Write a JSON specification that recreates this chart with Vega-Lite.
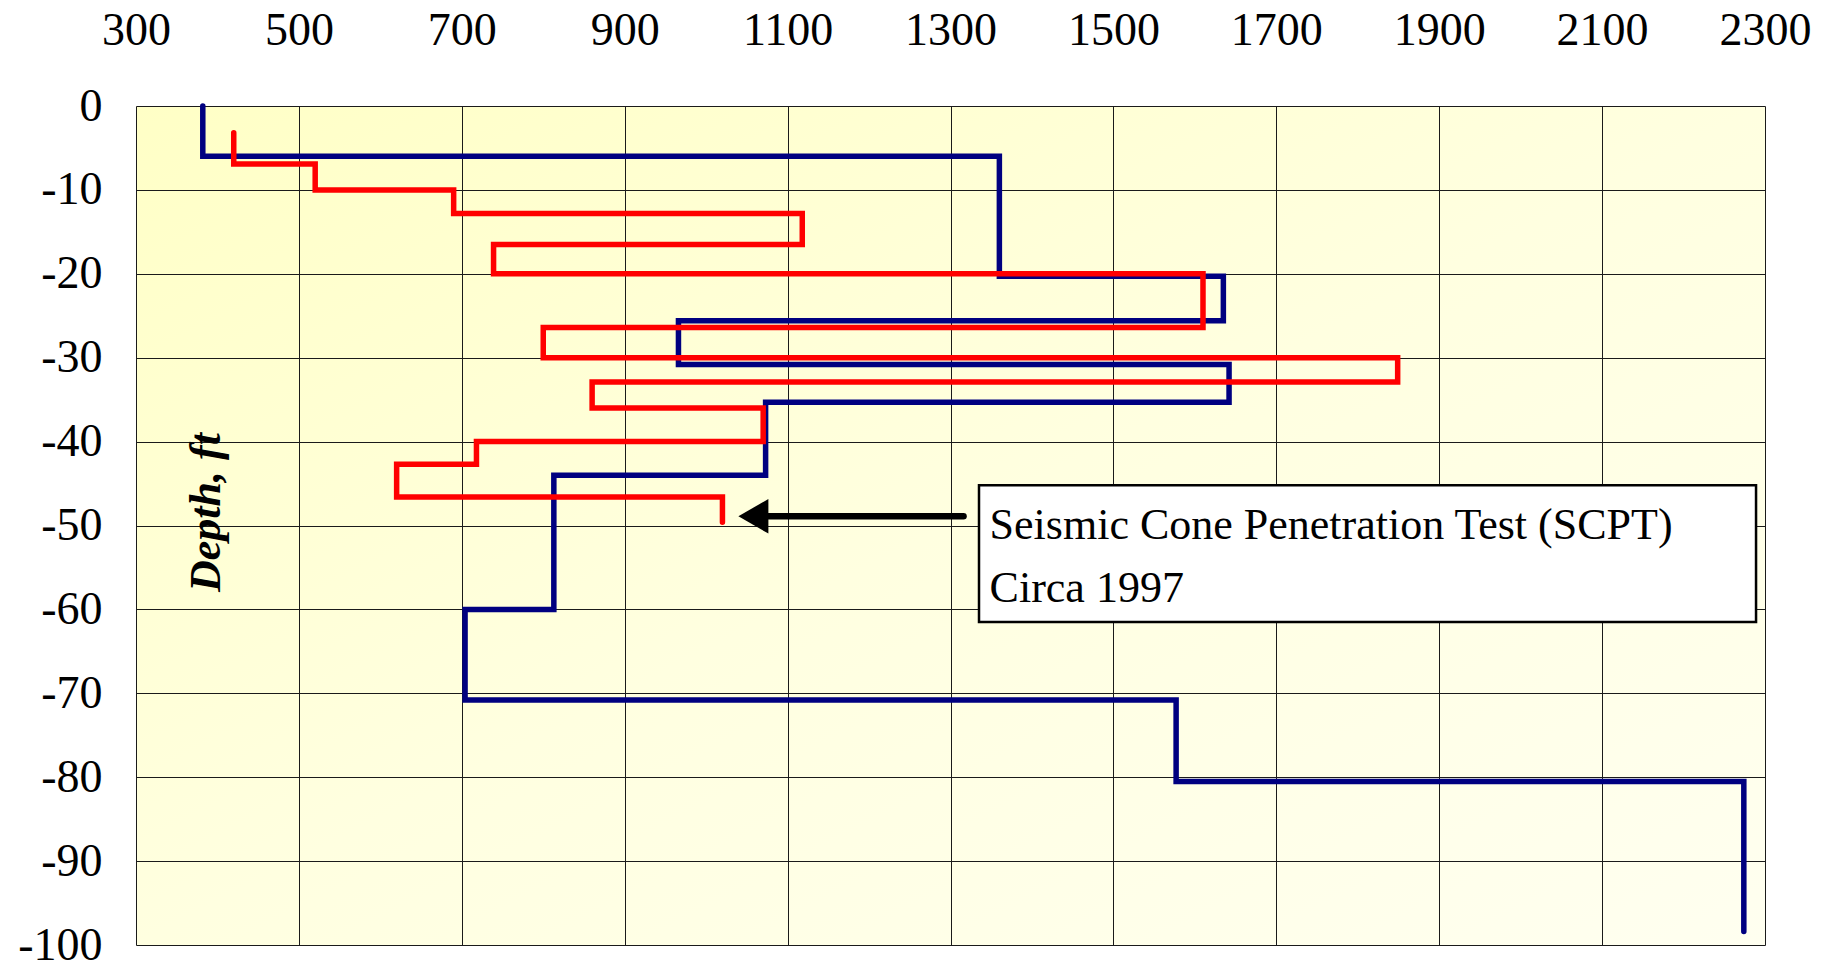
{
  "$schema": "https://vega.github.io/schema/vega-lite/v6.json",
  "autosize": "none",
  "width": 1629,
  "height": 839,
  "padding": {"left": 136, "top": 106, "right": 61, "bottom": 30},
  "background": "white",
  "config": {
    "font": "Liberation Serif",
    "view": {
      "stroke": null,
      "fill": {"gradient": "linear", "x1": 0, "y1": 0, "x2": 1, "y2": 1,
        "stops": [{"offset": 0, "color": "#FFFFC6"}, {"offset": 0.5, "color": "#FFFFE0"}, {"offset": 1, "color": "#FFFFF0"}]}
    }
  },
  "datasets": {
    "blue": [
      {"i": 0, "x": 382, "y": 0}, {"i": 1, "x": 382, "y": -6}, {"i": 2, "x": 1360, "y": -6},
      {"i": 3, "x": 1360, "y": -20.3}, {"i": 4, "x": 1635, "y": -20.3}, {"i": 5, "x": 1635, "y": -25.6},
      {"i": 6, "x": 966, "y": -25.6}, {"i": 7, "x": 966, "y": -30.8}, {"i": 8, "x": 1642, "y": -30.8},
      {"i": 9, "x": 1642, "y": -35.3}, {"i": 10, "x": 1073, "y": -35.3}, {"i": 11, "x": 1073, "y": -44},
      {"i": 12, "x": 813, "y": -44}, {"i": 13, "x": 813, "y": -60}, {"i": 14, "x": 704, "y": -60},
      {"i": 15, "x": 704, "y": -70.8}, {"i": 16, "x": 1577, "y": -70.8}, {"i": 17, "x": 1577, "y": -80.5},
      {"i": 18, "x": 2274, "y": -80.5}, {"i": 19, "x": 2274, "y": -98.4}
    ],
    "red": [
      {"i": 0, "x": 420, "y": -3.2}, {"i": 1, "x": 420, "y": -6.9}, {"i": 2, "x": 520, "y": -6.9},
      {"i": 3, "x": 520, "y": -10}, {"i": 4, "x": 690, "y": -10}, {"i": 5, "x": 690, "y": -12.8},
      {"i": 6, "x": 1118, "y": -12.8}, {"i": 7, "x": 1118, "y": -16.5}, {"i": 8, "x": 739, "y": -16.5},
      {"i": 9, "x": 739, "y": -20}, {"i": 10, "x": 1610, "y": -20}, {"i": 11, "x": 1610, "y": -26.4},
      {"i": 12, "x": 800, "y": -26.4}, {"i": 13, "x": 800, "y": -30}, {"i": 14, "x": 1849, "y": -30},
      {"i": 15, "x": 1849, "y": -32.9}, {"i": 16, "x": 860, "y": -32.9}, {"i": 17, "x": 860, "y": -36},
      {"i": 18, "x": 1070, "y": -36}, {"i": 19, "x": 1070, "y": -40}, {"i": 20, "x": 718, "y": -40},
      {"i": 21, "x": 718, "y": -42.7}, {"i": 22, "x": 620, "y": -42.7}, {"i": 23, "x": 620, "y": -46.6},
      {"i": 24, "x": 1020, "y": -46.6}, {"i": 25, "x": 1020, "y": -49.6}
    ],
    "arrow": [{"i": 0, "x": 1062, "y": -48.9}, {"i": 1, "x": 1316, "y": -48.9}],
    "head": [{"x": 1058, "y": -48.9}],
    "box": [{"x": 1335, "x2": 2289, "y": -45.2, "y2": -61.5}],
    "notes": [
      {"x": 1348, "y": -51.6, "text": "Seismic Cone Penetration Test (SCPT)"},
      {"x": 1348, "y": -59.1, "text": "Circa 1997"}
    ]
  },
  "encoding": {
    "x": {
      "field": "x", "type": "quantitative",
      "scale": {"domain": [300, 2300], "nice": false, "zero": false},
      "axis": {
        "orient": "top", "title": null,
        "values": [300, 500, 700, 900, 1100, 1300, 1500, 1700, 1900, 2100, 2300],
        "labelExpr": "'' + datum.value",
        "labelFontSize": 46, "labelColor": "#000000", "labelPadding": 52, "labelFlush": false,
        "labelFont": "Liberation Serif",
        "ticks": false, "tickSize": 0, "domain": false, "grid": true,
        "gridColor": "#1a1a1a", "gridWidth": 1, "gridOpacity": 1,
        "encode": {"grid": {"update": {
          "stroke": [{"test": "datum.value == 300", "value": "#d9d9d9"}, {"test": "datum.value == 2300", "value": "#8c8c8c"}, {"value": "#1a1a1a"}],
          "strokeWidth": [{"test": "datum.value == 2300", "value": 2.5}, {"value": 1}]
        }}}
      }
    },
    "y": {
      "field": "y", "type": "quantitative",
      "scale": {"domain": [-100, 0], "nice": false, "zero": false},
      "axis": {
        "title": "Depth, ft", "titleFont": "Liberation Serif", "titleFontSize": 44,
        "titleFontStyle": "italic", "titleFontWeight": "bold", "titleColor": "#000000",
        "titleAngle": 270, "titleX": 70, "titleY": 406, "titleAlign": "center", "titleBaseline": "middle",
        "values": [0, -10, -20, -30, -40, -50, -60, -70, -80, -90, -100],
        "labelExpr": "'' + datum.value",
        "labelFontSize": 46, "labelColor": "#000000", "labelPadding": 34, "labelFlush": false,
        "labelFont": "Liberation Serif",
        "ticks": false, "tickSize": 0, "domain": false, "grid": true,
        "gridColor": "#1a1a1a", "gridWidth": 1, "gridOpacity": 1,
        "encode": {"grid": {"update": {
          "stroke": [{"test": "datum.value == 0", "value": "#d9d9d9"}, {"test": "datum.value == -100", "value": "#8c8c8c"}, {"value": "#1a1a1a"}],
          "strokeWidth": [{"test": "datum.value == -100", "value": 2.5}, {"value": 1}]
        }}}
      }
    }
  },
  "layer": [
    {
      "data": {"name": "blue"},
      "mark": {"type": "line", "color": "#000080", "strokeWidth": 5.5, "strokeCap": "round", "strokeJoin": "miter"},
      "encoding": {"order": {"field": "i", "type": "quantitative"}}
    },
    {
      "data": {"name": "red"},
      "mark": {"type": "line", "color": "#FF0000", "strokeWidth": 5.5, "strokeCap": "round", "strokeJoin": "miter"},
      "encoding": {"order": {"field": "i", "type": "quantitative"}}
    },
    {
      "data": {"name": "arrow"},
      "mark": {"type": "line", "color": "#000000", "strokeWidth": 6.5, "strokeCap": "round"},
      "encoding": {"order": {"field": "i", "type": "quantitative"}}
    },
    {
      "data": {"name": "head"},
      "mark": {"type": "point", "shape": "triangle-left", "filled": true, "color": "#000000", "opacity": 1, "size": 1200}
    },
    {
      "data": {"name": "box"},
      "mark": {"type": "rect", "fill": "#FFFFFF", "stroke": "#000000", "strokeWidth": 2.5},
      "encoding": {"x2": {"field": "x2"}, "y2": {"field": "y2"}}
    },
    {
      "data": {"name": "notes"},
      "mark": {"type": "text", "align": "left", "baseline": "alphabetic", "fontSize": 44, "color": "#000000", "font": "Liberation Serif"},
      "encoding": {"text": {"field": "text", "type": "nominal"}}
    }
  ]
}
